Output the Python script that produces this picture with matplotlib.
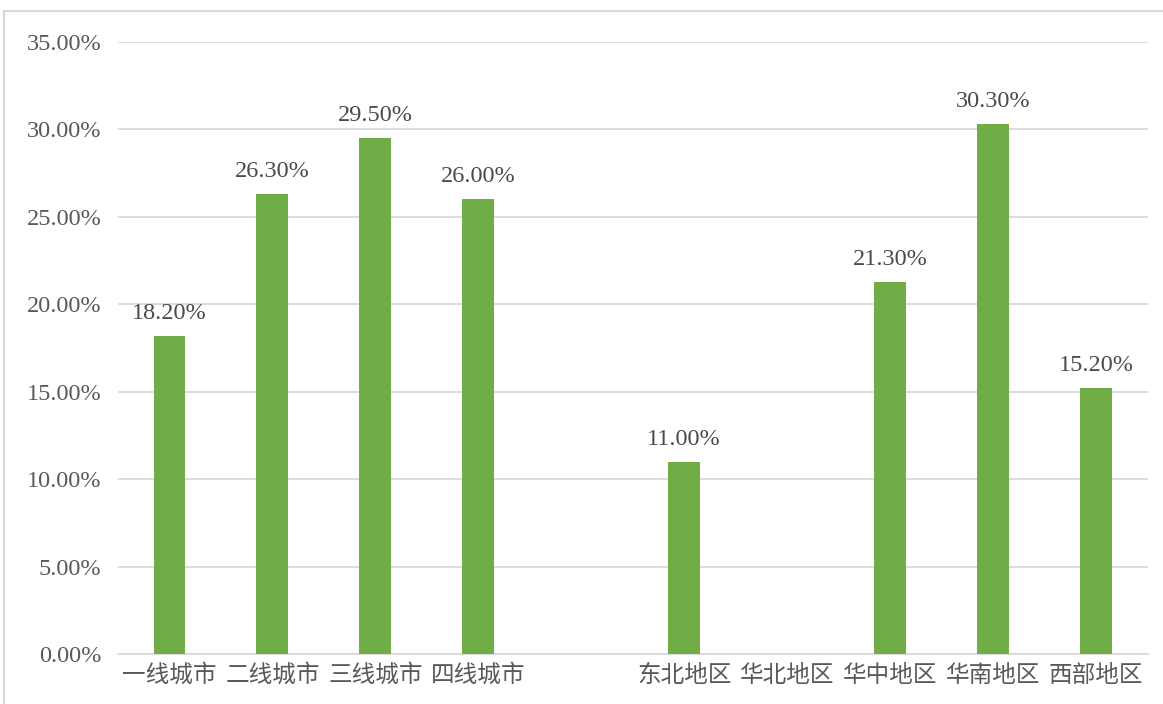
import matplotlib
matplotlib.use("Agg")
import matplotlib.pyplot as plt
from matplotlib.patches import Rectangle
import numpy as np

categories = ["一线城市", "二线城市", "三线城市", "四线城市", "", "东北地区", "华北地区", "华中地区", "华南地区", "西部地区"]
values = [18.2, 26.3, 29.5, 26.0, None, 11.0, None, 21.3, 30.3, 15.2]
yticks = [0, 5, 10, 15, 20, 25, 30, 35]

bar_color = "#70AD47"
text_color = "#595959"
grid_color = "#D9D9D9"

fig = plt.figure(figsize=(11.63, 7.04), dpi=100)
fig.patches.append(Rectangle((4/1163, -0.1), 1.2, 693/704 + 0.1, transform=fig.transFigure,
                             fill=False, edgecolor=grid_color, linewidth=1.5))
ax = fig.add_axes([118/1163, 50/704, (1147.5-118)/1163, 612/704])

x = np.arange(len(categories))
for xi, v in zip(x, values):
    if v is None:
        continue
    ax.bar(xi, v / 100, width=0.31, color=bar_color, zorder=3)
    ax.text(xi, v / 100 + 0.0068, f"{v:.2f}%", ha="center", va="bottom",
            fontsize=17.5, color="#4A4A4A", family=["Liberation Serif", "DejaVu Serif"])

ax.set_xlim(-0.5, len(categories) - 0.5)
ax.set_ylim(0, 0.35)
ax.set_yticks([t / 100 for t in yticks])
ax.set_yticklabels([f"{t:.2f}%" for t in yticks], family=["Liberation Serif", "DejaVu Serif"],
                   fontsize=17.5, color=text_color)
ax.set_xticks(x)
ax.set_xticklabels(categories, family=["Noto Sans CJK SC", "DejaVu Sans"], fontsize=17, color=text_color)
ax.tick_params(axis="both", length=0)
ax.tick_params(axis="y", pad=12)
ax.tick_params(axis="x", pad=7)
ax.grid(axis="y", color=grid_color, linewidth=1.3, zorder=0)
for s in ["top", "right", "left"]:
    ax.spines[s].set_visible(False)
ax.spines["bottom"].set_color(grid_color)
ax.spines["bottom"].set_linewidth(1.3)

fig.savefig("out.png", dpi=100)
